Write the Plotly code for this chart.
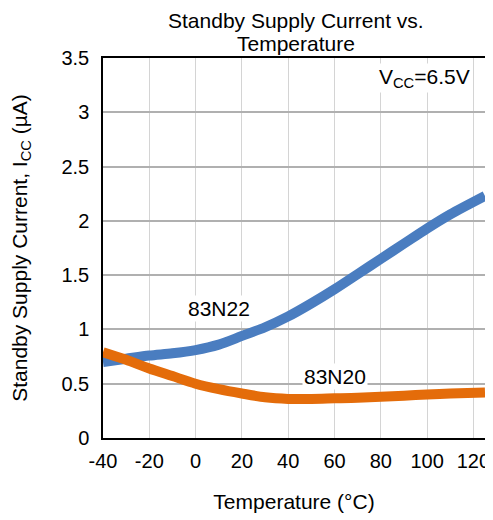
import plotly.graph_objects as go

temps = [-40, -30, -20, -10, 0, 10, 20, 30, 40, 50, 60, 70, 80, 90, 100, 110, 125]
icc_83n22 = [0.70, 0.73, 0.76, 0.78, 0.81, 0.86, 0.94, 1.02, 1.12, 1.24, 1.37, 1.51, 1.65, 1.79, 1.93, 2.06, 2.23]
icc_83n20 = [0.79, 0.72, 0.64, 0.57, 0.50, 0.45, 0.41, 0.375, 0.36, 0.36, 0.365, 0.37, 0.38, 0.39, 0.40, 0.41, 0.42]

x_ticks = [-40, -20, 0, 20, 40, 60, 80, 100, 120]
x_tick_text = ["-40", "-20", "0", "20", "40", "60", "80", "100", "120"]
y_ticks = [0, 0.5, 1, 1.5, 2, 2.5, 3, 3.5]
y_tick_text = ["0", "0.5", "1", "1.5", "2", "2.5", "3", "3.5"]
title_lines = ["Standby Supply Current vs.", "Temperature"]

FONT = "Liberation Sans, Arial, sans-serif"

# the page body has an 8px margin, so the figure is 8px smaller and margins are compensated
W, H = 485, 512

fig = go.Figure()
fig.add_trace(go.Scatter(x=temps, y=icc_83n22, mode="lines", name="83N22",
                         line=dict(color="#4a7dc0", width=10, shape="spline", smoothing=0.8)))
fig.add_trace(go.Scatter(x=temps, y=icc_83n20, mode="lines", name="83N20",
                         line=dict(color="#e46c0a", width=10, shape="spline", smoothing=0.8)))

fig.add_annotation(x=10, y=1.19, text="83N22", showarrow=False, bgcolor="white",
                   font=dict(family=FONT, size=21, color="black"))
fig.add_annotation(x=60, y=0.57, text="83N20", showarrow=False, bgcolor="white",
                   font=dict(family=FONT, size=21, color="black"))
fig.add_annotation(x=99, y=3.32, text="V<sub>CC</sub>=6.5V", showarrow=False, bgcolor="white",
                   font=dict(family=FONT, size=21, color="black"))

# chart title, two lines
for txt, ty in zip(title_lines, [1.098, 1.039]):
    fig.add_annotation(xref="paper", yref="paper", x=0.505, y=ty, text=txt, showarrow=False,
                       xanchor="center", yanchor="middle",
                       font=dict(family=FONT, size=21, color="black"))

fig.update_layout(
    width=W, height=H,
    margin=dict(l=95, r=8, t=50, b=82, autoexpand=False),
    paper_bgcolor="white", plot_bgcolor="white",
    showlegend=False,
    font=dict(family=FONT, color="black"),
)
fig.update_xaxes(range=[-40, 125], tickvals=x_ticks, ticktext=x_tick_text, ticks="",
                 showgrid=True, gridcolor="#d4d4d4", gridwidth=1.2, showline=True,
                 linecolor="black", linewidth=1.5, mirror=True, zeroline=False,
                 automargin=False, ticklabelstandoff=4,
                 tickfont=dict(family=FONT, size=20, color="black"),
                 title=dict(text="Temperature (°C)", font=dict(family=FONT, size=21, color="black"),
                            standoff=24))
fig.update_yaxes(range=[0, 3.5], tickvals=y_ticks, ticktext=y_tick_text, ticks="",
                 showgrid=True, gridcolor="#b0b0b0", gridwidth=1.5, showline=True,
                 linecolor="black", linewidth=1.5, mirror=True, zeroline=False,
                 automargin=False, ticklabelstandoff=8,
                 tickfont=dict(family=FONT, size=20, color="black"),
                 title=dict(text="Standby Supply Current, I<sub>CC</sub> (µA)",
                            font=dict(family=FONT, size=21, color="black"), standoff=28))

fig.write_html("out.html")
